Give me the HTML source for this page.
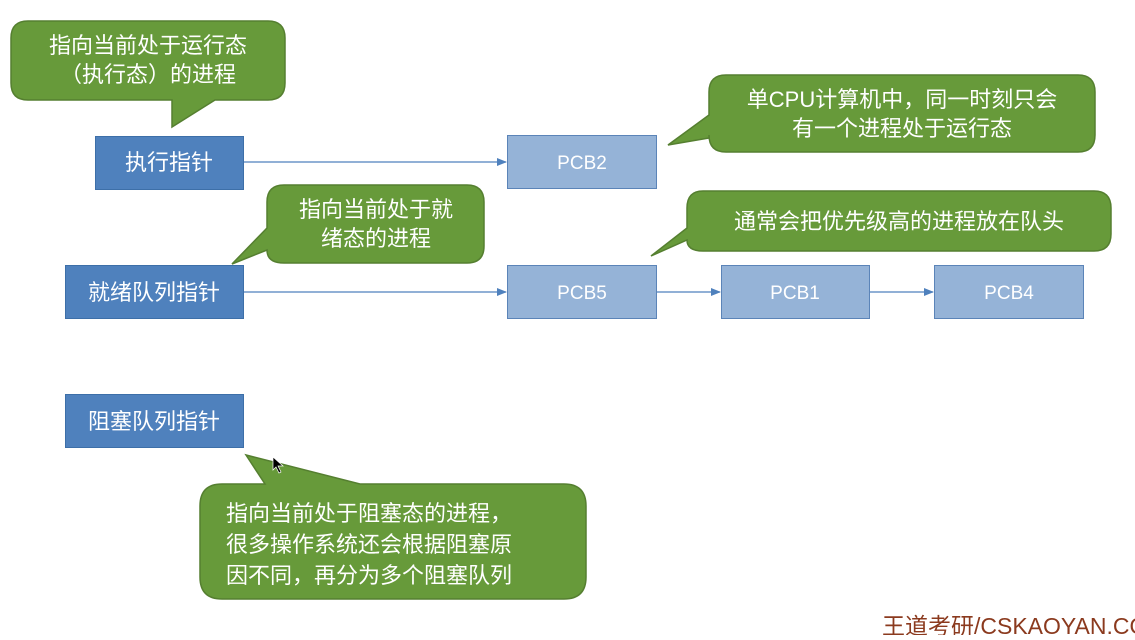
<!DOCTYPE html>
<html><head><meta charset="utf-8"><style>
html,body{margin:0;padding:0;background:#fff;}
svg text{font-family:"Liberation Sans","Noto Sans CJK SC",sans-serif;}
</style></head><body>
<svg width="1135" height="635" viewBox="0 0 1135 635" xmlns="http://www.w3.org/2000/svg">
<defs><marker id="a" markerWidth="10" markerHeight="8" refX="9" refY="4" orient="auto" markerUnits="userSpaceOnUse"><path d="M0,0 L10,4 L0,8 z" fill="#4f81bd"/></marker></defs>
<g fill="#679a3a" stroke="#557f30" stroke-width="1.5">
<path d="M28,21 H268 Q285,21 285,38 V83 Q285,100 268,100 H215 L172,127 L172,100 H28 Q11,100 11,83 V38 Q11,21 28,21 Z"/>
<path d="M726,75 H1078 Q1095,75 1095,92 V135 Q1095,152 1078,152 H726 Q709,152 709,135 V138 L668,145 L709,115 V92 Q709,75 726,75 Z"/>
<path d="M284,185 H467 Q484,185 484,202 V246 Q484,263 467,263 H284 Q267,263 267,250 L232,264 L267,228 V202 Q267,185 284,185 Z"/>
<path d="M703,191 H1094 Q1111,191 1111,208 V234 Q1111,251 1094,251 H703 Q687,251 687,240 L651,256 L687,228 V208 Q687,191 703,191 Z"/>
<path d="M222,484 H265 L246,455 L360,484 H564 Q586,484 586,506 V577 Q586,599 564,599 H222 Q200,599 200,577 V506 Q200,484 222,484 Z"/>
</g>
<g fill="#fff" font-size="22" text-anchor="middle">
<text x="148" y="53">指向当前处于运行态</text>
<text x="148" y="82">（执行态）的进程</text>
<text x="902" y="107">单CPU计算机中，同一时刻只会</text>
<text x="902" y="136">有一个进程处于运行态</text>
<text x="376" y="217">指向当前处于就</text>
<text x="376" y="246">绪态的进程</text>
<text x="899" y="229">通常会把优先级高的进程放在队头</text>
</g>
<g fill="#fff" font-size="22">
<text x="226" y="521">指向当前处于阻塞态的进程，</text>
<text x="226" y="552">很多操作系统还会根据阻塞原</text>
<text x="226" y="583">因不同，再分为多个阻塞队列</text>
</g>
<g stroke="#3d6fa8" stroke-width="1" fill="#4f81bd">
<rect x="95.5" y="136.5" width="148" height="53"/>
<rect x="65.5" y="265.5" width="178" height="53"/>
<rect x="65.5" y="394.5" width="178" height="53"/>
</g>
<g stroke="#5b84b8" stroke-width="1" fill="#95b3d7">
<rect x="507.5" y="135.5" width="149" height="53"/>
<rect x="507.5" y="265.5" width="149" height="53"/>
<rect x="721.5" y="265.5" width="148" height="53"/>
<rect x="934.5" y="265.5" width="149" height="53"/>
</g>
<g stroke="#4f81bd" stroke-width="1.2" marker-end="url(#a)">
<line x1="244" y1="162" x2="506" y2="162"/>
<line x1="244" y1="292" x2="506" y2="292"/>
<line x1="657" y1="292" x2="720" y2="292"/>
<line x1="870" y1="292" x2="933" y2="292"/>
</g>
<g fill="#fff" font-size="22" text-anchor="middle">
<text x="169" y="170">执行指针</text>
<text x="154" y="300">就绪队列指针</text>
<text x="154" y="429">阻塞队列指针</text>
</g>
<g fill="#fff" font-size="19" text-anchor="middle">
<text x="582" y="169">PCB2</text>
<text x="582" y="299">PCB5</text>
<text x="795" y="299">PCB1</text>
<text x="1009" y="299">PCB4</text>
</g>
<path d="M273,457 L273,470 L276,467 L279,473 L281,472 L278,466 L283,466 Z" fill="#000" stroke="#fff" stroke-width="0.7"/>
<text x="882" y="634" fill="#8b3a1e" font-size="23">王道考研/CSKAOYAN.COM</text>
</svg>
</body></html>
